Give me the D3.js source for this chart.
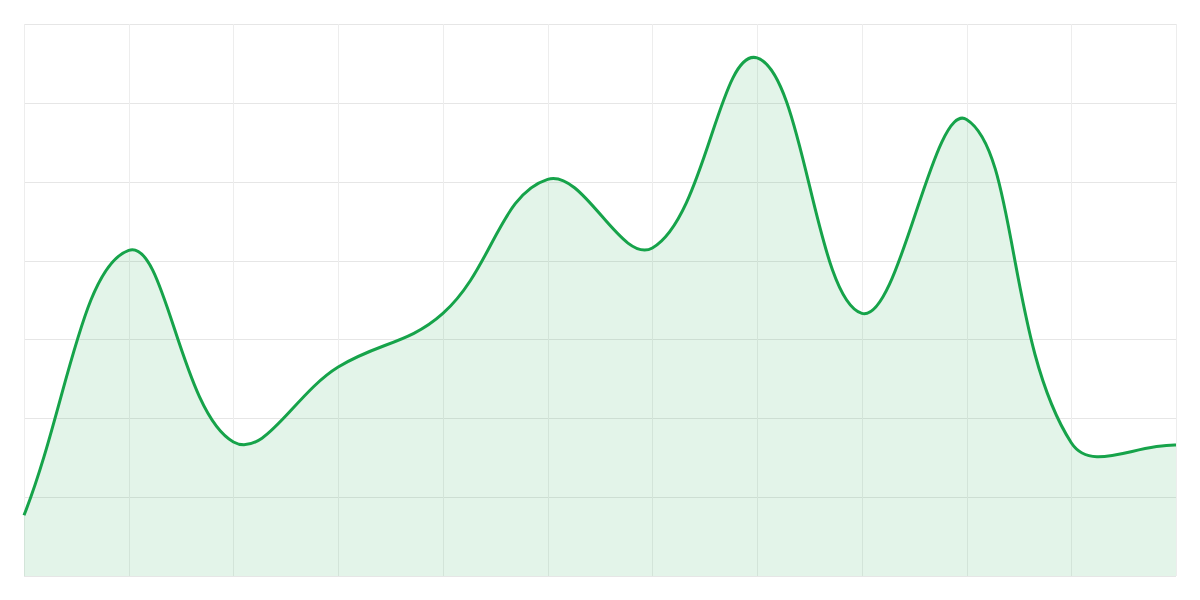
<!DOCTYPE html>
<html>
<head>
<meta charset="utf-8">
<script src="https://cdn.jsdelivr.net/npm/d3@7"></script>
<style>
  body { margin: 0; background: #fff; }
  #chart-area { width: 1200px; height: 600px; }
</style>
</head>
<body>
<div id="chart-area"></div>
<script>
// values, one per vertical gridline
var points = ["1","2","3","4","5","6","7","8","9","10","11","12"];
var values = [7.7, 41.3, 17.0, 26.5, 33.3, 50.3, 41.6, 65.7, 33.3, 57.9, 16.9, 16.6];
var yTicks = [0, 10, 20, 30, 40, 50, 60, 70];

var margin = {top: 24, right: 24, bottom: 24, left: 24};
var width = 1200 - margin.left - margin.right;
var height = 600 - margin.top - margin.bottom;

// spline weighted by the distance to the neighbours (tension 0.4)
function weightedSpline(tension) {
    function Curve(context) { this._context = context; }
    Curve.prototype = {
        areaStart: function() { this._line = 0; },
        areaEnd: function() { this._line = NaN; },
        lineStart: function() { this._x = []; this._y = []; },
        point: function(x, y) { this._x.push(+x); this._y.push(+y); },
        lineEnd: function() {
            var xs = this._x, ys = this._y, n = xs.length, ctx = this._context;
            if (n) {
                if (this._line) ctx.lineTo(xs[0], ys[0]);
                else ctx.moveTo(xs[0], ys[0]);
                var cp = [];
                for (var i = 0; i < n; i++) {
                    var a = i > 0 ? i - 1 : i, b = i < n - 1 ? i + 1 : i;
                    var d01 = Math.hypot(xs[i] - xs[a], ys[i] - ys[a]);
                    var d12 = Math.hypot(xs[b] - xs[i], ys[b] - ys[i]);
                    var s01 = d01 / (d01 + d12) || 0;
                    var s12 = d12 / (d01 + d12) || 0;
                    var fa = tension * s01, fb = tension * s12;
                    cp.push({
                        px: xs[i] - fa * (xs[b] - xs[a]),
                        py: ys[i] - fa * (ys[b] - ys[a]),
                        nx: xs[i] + fb * (xs[b] - xs[a]),
                        ny: ys[i] + fb * (ys[b] - ys[a])
                    });
                }
                for (i = 1; i < n; i++) {
                    ctx.bezierCurveTo(cp[i-1].nx, cp[i-1].ny, cp[i].px, cp[i].py, xs[i], ys[i]);
                }
            }
            if (this._line || (this._line !== 0 && n === 1)) ctx.closePath();
            this._line = 1 - this._line;
        }
    };
    return function(context) { return new Curve(context); };
}

var svg = d3.select("#chart-area").append("svg")
    .attr("width", width + margin.left + margin.right)
    .attr("height", height + margin.top + margin.bottom)
    .append("g")
        .attr("transform", "translate(" + margin.left + "," + margin.top + ")");

var x = d3.scalePoint()
    .domain(points)
    .range([0, width]);

var y = d3.scaleLinear()
    .domain([0, 70])
    .range([height, 0]);

// grid
svg.append("g")
    .attr("class", "grid y")
    .selectAll("line")
    .data(yTicks)
    .enter().append("line")
        .attr("x1", 0)
        .attr("x2", width)
        .attr("y1", function(d){ return Math.round(y(d)) + 0.5; })
        .attr("y2", function(d){ return Math.round(y(d)) + 0.5; })
        .attr("stroke", "#e6e6e6")
        .attr("stroke-width", 1);

svg.append("g")
    .attr("class", "grid x")
    .selectAll("line")
    .data(points)
    .enter().append("line")
        .attr("x1", function(d){ return Math.round(x(d)) + 0.5; })
        .attr("x2", function(d){ return Math.round(x(d)) + 0.5; })
        .attr("y1", 0)
        .attr("y2", height)
        .attr("stroke", "#ededed")
        .attr("stroke-width", 1);

var data = points.map(function(p, i){ return {p: p, v: values[i]}; });

var area = d3.area()
    .x(function(d){ return x(d.p); })
    .y0(height)
    .y1(function(d){ return y(d.v); })
    .curve(weightedSpline(0.4));

var line = d3.line()
    .x(function(d){ return x(d.p); })
    .y(function(d){ return y(d.v); })
    .curve(weightedSpline(0.4));

svg.append("path")
    .datum(data)
    .attr("fill", "#16a34a")
    .attr("fill-opacity", 0.12)
    .attr("d", area);

svg.append("path")
    .datum(data)
    .attr("fill", "none")
    .attr("stroke", "#16a34a")
    .attr("stroke-width", 3)
    .attr("d", line);
</script>
</body>
</html>
